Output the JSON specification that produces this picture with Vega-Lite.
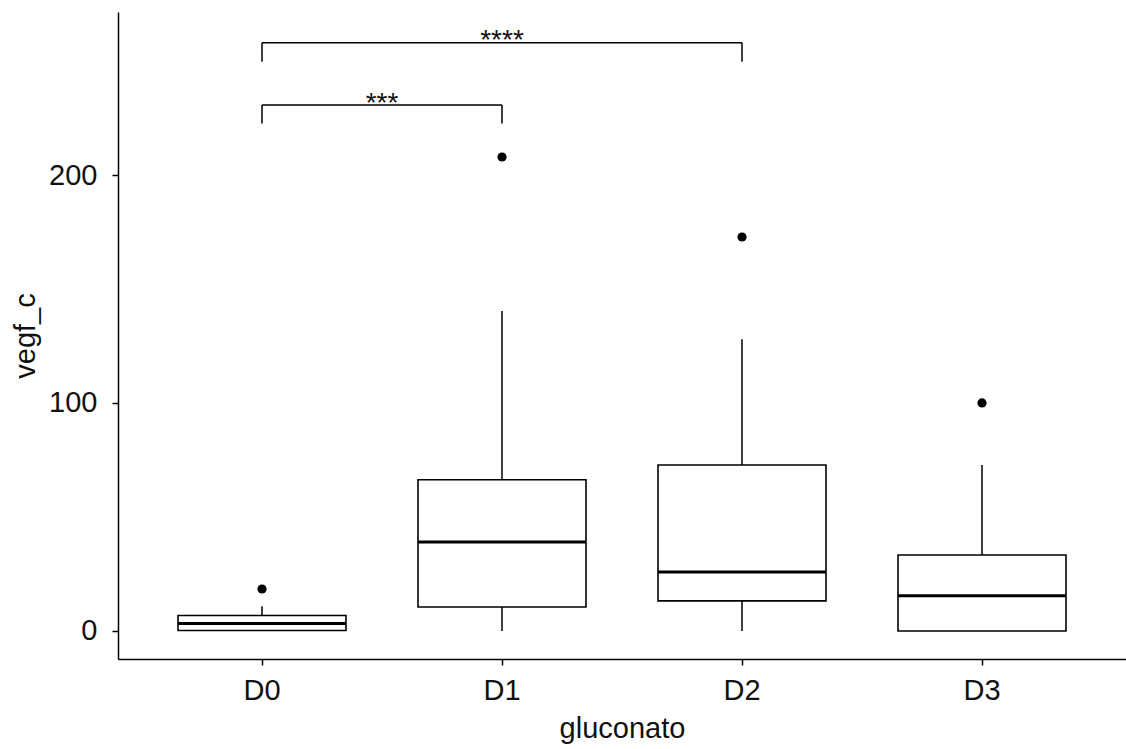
{
  "$schema": "https://vega.github.io/schema/vega-lite/v6.json",
  "width": 1008,
  "height": 647,
  "autosize": {"type": "none"},
  "padding": {"left": 118, "top": 12, "right": 0, "bottom": 90},
  "background": "white",
  "config": {
    "view": {"stroke": null},
    "font": "Liberation Sans",
    "axis": {
      "grid": false,
      "domainColor": "#000000",
      "domainWidth": 1.5,
      "tickColor": "#000000",
      "tickWidth": 1.5,
      "tickSize": 6,
      "labelFont": "Liberation Sans",
      "labelFontSize": 29,
      "labelColor": "#111111",
      "titleFont": "Liberation Sans",
      "titleFontSize": 29,
      "titleFontWeight": "normal",
      "titleColor": "#111111"
    }
  },
  "datasets": {
    "boxes": [
      {"gluconato": "D0", "lower": 0, "q1": 0.2, "median": 3.3, "q3": 6.8, "upper": 10.8},
      {"gluconato": "D1", "lower": 0, "q1": 10.5, "median": 39, "q3": 66.3, "upper": 140.4},
      {"gluconato": "D2", "lower": 0, "q1": 13.2, "median": 25.9, "q3": 72.8, "upper": 128},
      {"gluconato": "D3", "lower": 0, "q1": 0, "median": 15.4, "q3": 33.3, "upper": 72.8}
    ],
    "outliers": [
      {"gluconato": "D0", "vegf_c": 18.4},
      {"gluconato": "D1", "vegf_c": 207.9},
      {"gluconato": "D2", "vegf_c": 172.8},
      {"gluconato": "D3", "vegf_c": 100}
    ],
    "brackets": [
      {"from": "D0", "to": "D1", "top": 230.7, "bottom": 222.6, "label": "***"},
      {"from": "D0", "to": "D2", "top": 258.0, "bottom": 249.7, "label": "****"}
    ]
  },
  "encoding": {
    "x": {
      "field": "gluconato",
      "type": "nominal",
      "scale": {"domain": ["D0", "D1", "D2", "D3"], "paddingInner": 0, "paddingOuter": 0.1},
      "axis": {"labelAngle": 0, "labelPadding": 11, "title": "gluconato", "titlePadding": 9}
    }
  },
  "layer": [
    {
      "data": {"name": "boxes"},
      "mark": {"type": "rule", "color": "#000000", "strokeWidth": 1.5},
      "encoding": {
        "y": {
          "field": "lower",
          "type": "quantitative",
          "scale": {"domain": [-12.3, 271.5], "nice": false, "zero": false},
          "axis": {"values": [0, 100, 200], "title": "vegf_c", "labelPadding": 15, "titlePadding": 8}
        },
        "y2": {"field": "upper"}
      }
    },
    {
      "data": {"name": "boxes"},
      "mark": {"type": "bar", "fill": "#ffffff", "stroke": "#000000", "strokeWidth": 1.6, "width": {"band": 0.7}},
      "encoding": {
        "y": {"field": "q1", "type": "quantitative"},
        "y2": {"field": "q3"}
      }
    },
    {
      "data": {"name": "boxes"},
      "mark": {"type": "tick", "color": "#000000", "size": 168, "thickness": 3, "opacity": 1},
      "encoding": {
        "y": {"field": "median", "type": "quantitative"}
      }
    },
    {
      "data": {"name": "outliers"},
      "mark": {"type": "point", "filled": true, "color": "#000000", "size": 85, "opacity": 1},
      "encoding": {
        "y": {"field": "vegf_c", "type": "quantitative"}
      }
    },
    {
      "data": {"name": "brackets"},
      "mark": {"type": "rule", "color": "#000000", "strokeWidth": 1.5},
      "encoding": {
        "x": {"field": "from", "type": "nominal", "bandPosition": 0.5},
        "x2": {"field": "to", "bandPosition": 0.5},
        "y": {"field": "top", "type": "quantitative"}
      }
    },
    {
      "data": {"name": "brackets"},
      "mark": {"type": "rule", "color": "#000000", "strokeWidth": 1.5},
      "encoding": {
        "x": {"field": "from", "type": "nominal"},
        "y": {"field": "bottom", "type": "quantitative"},
        "y2": {"field": "top"}
      }
    },
    {
      "data": {"name": "brackets"},
      "mark": {"type": "rule", "color": "#000000", "strokeWidth": 1.5},
      "encoding": {
        "x": {"field": "to", "type": "nominal"},
        "y": {"field": "bottom", "type": "quantitative"},
        "y2": {"field": "top"}
      }
    },
    {
      "data": {"values": [{"label": "***", "at": "D1", "top": 230.7}]},
      "mark": {"type": "text", "fontSize": 28, "color": "#111111", "baseline": "alphabetic", "align": "center", "dy": 6.5},
      "encoding": {
        "x": {"field": "at", "type": "nominal", "bandPosition": 0},
        "y": {"field": "top", "type": "quantitative"},
        "text": {"field": "label"}
      }
    },
    {
      "data": {"values": [{"label": "****", "at": "D1", "top": 258.0}]},
      "mark": {"type": "text", "fontSize": 28, "color": "#111111", "baseline": "alphabetic", "align": "center", "dy": 6.5},
      "encoding": {
        "x": {"field": "at", "type": "nominal", "bandPosition": 0.5},
        "y": {"field": "top", "type": "quantitative"},
        "text": {"field": "label"}
      }
    }
  ]
}
